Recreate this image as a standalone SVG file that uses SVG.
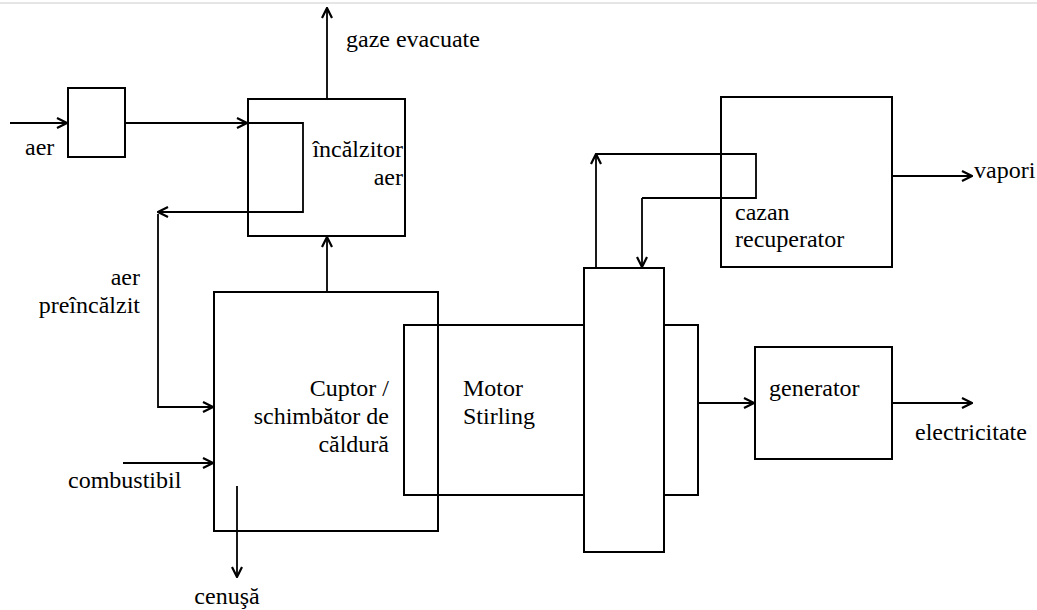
<svg xmlns="http://www.w3.org/2000/svg" width="1037" height="610" viewBox="0 0 1037 610">
<style>
.box{fill:none;stroke:#000;stroke-width:2}
.ln{fill:none;stroke:#000;stroke-width:1.8}
.arr{fill:none;stroke:#000;stroke-width:1.8;marker-end:url(#ah)}
text{font-family:"Liberation Serif","Times New Roman",serif;font-size:24px;fill:#000}
.r{text-anchor:end}
.m{text-anchor:middle}
</style>
<defs>
<marker id="ah" viewBox="0 0 12 12" refX="11" refY="6" markerWidth="12" markerHeight="12" markerUnits="userSpaceOnUse" orient="auto">
<path d="M1,1 L11,6 L1,11" fill="none" stroke="#000" stroke-width="2.2"/>
</marker>
</defs>
<rect width="1037" height="610" fill="#fff"/>
<line x1="0" y1="3" x2="1037" y2="3" stroke="#ccc" stroke-width="1"/>

<g id="suflanta">
<rect class="box" x="68" y="88" width="57" height="69"/>
</g>

<g id="incalzitor-aer">
<rect class="box" x="248" y="99" width="157" height="137"/>
<text class="r" x="403" y="157">încălzitor</text>
<text class="r" x="403" y="185">aer</text>
</g>

<g id="cuptor">
<rect class="box" x="214" y="292" width="224" height="239"/>
<text class="r" x="389" y="396">Cuptor /</text>
<text class="r" x="389" y="424">schimbător de</text>
<text class="r" x="389" y="452">căldură</text>
</g>

<g id="motor-stirling">
<path class="box" d="M584,325 L404,325 L404,495 L584,495"/>
<text x="463" y="396">Motor</text>
<text x="463" y="424">Stirling</text>
</g>

<g id="arbore">
<rect class="box" x="584" y="268" width="80" height="284"/>
</g>

<g id="cuplaj">
<path class="box" d="M664,325 L698,325 L698,495 L664,495"/>
</g>

<g id="generator">
<rect class="box" x="755" y="347" width="137" height="112"/>
<text x="769" y="396">generator</text>
</g>

<g id="cazan-recuperator">
<rect class="box" x="721" y="97" width="171" height="170"/>
<text x="735" y="220">cazan</text>
<text x="735" y="247">recuperator</text>
</g>

<g id="connectors">
<path class="arr" d="M10,123 L67,123"/>
<path class="arr" d="M125,123 L247,123"/>
<path class="ln" d="M247,123 L303,123 L303,212 L250,212"/>
<path class="arr" d="M250,212 L158,212"/>
<path class="arr" d="M158,214 L158,407 L213,407"/>
<path class="arr" d="M123,463 L213,463"/>
<path class="arr" d="M237,486 L237,577"/>
<path class="arr" d="M327,292 L327,237"/>
<path class="arr" d="M327,99 L327,8"/>
<path class="arr" d="M596,268 L596,154"/>
<path class="ln" d="M596,154 L756,154 L756,198 L642,198"/>
<path class="arr" d="M642,198 L642,267"/>
<path class="arr" d="M892,176 L972,176"/>
<path class="arr" d="M698,403 L754,403"/>
<path class="arr" d="M892,403 L972,403"/>
<text x="25" y="155">aer</text>
<text x="346" y="47">gaze evacuate</text>
<text class="r" x="140" y="285">aer</text>
<text class="r" x="140" y="313">preîncălzit</text>
<text x="68" y="488">combustibil</text>
<text class="m" x="227" y="604">cenuşă</text>
<text x="974" y="178">vapori</text>
<text x="915" y="440">electricitate</text>
</g>
</svg>
